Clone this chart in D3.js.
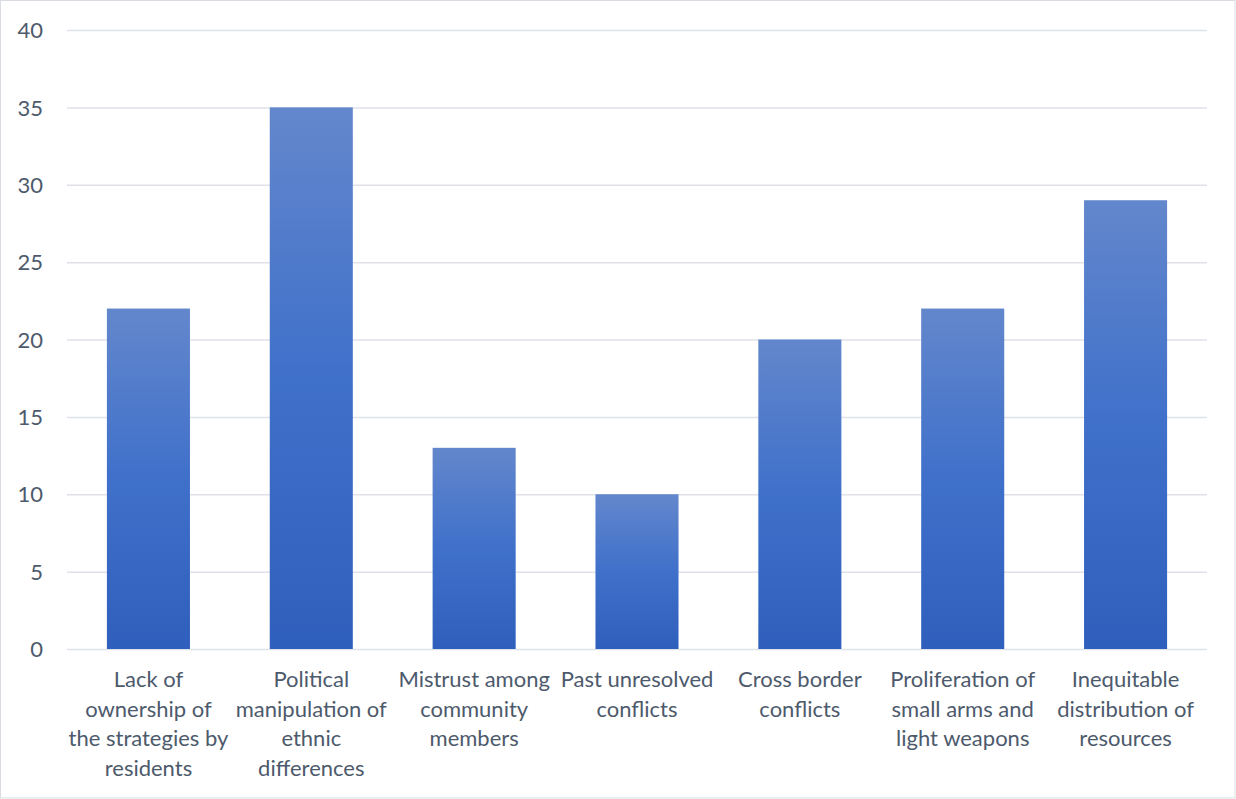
<!DOCTYPE html>
<html>
<head>
<meta charset="utf-8">
<script src="https://cdn.jsdelivr.net/npm/d3@7"></script>
<style>
  html, body { margin: 0; padding: 0; background: #ffffff; }
  svg { display: block; }
  text { font-family: Lato, "Open Sans", sans-serif; fill: #4d5a6c; }
</style>
</head>
<body>
<svg id="chart" width="1236" height="799"></svg>
<script>
// Causes of conflict and number of respondents citing each
const categories = [
  "Lack of ownership of the strategies by residents",
  "Political manipulation of ethnic differences",
  "Mistrust among community members",
  "Past unresolved conflicts",
  "Cross border conflicts",
  "Proliferation of small arms and light weapons",
  "Inequitable distribution of resources"
];
const values = [22, 35, 13, 10, 20, 22, 29];

// Category labels broken into display lines
const categoryLines = [
  ["Lack of", "ownership of", "the strategies by", "residents"],
  ["Political", "manipulation of", "ethnic", "differences"],
  ["Mistrust among", "community", "members"],
  ["Past unresolved", "conflicts"],
  ["Cross border", "conflicts"],
  ["Proliferation of", "small arms and", "light weapons"],
  ["Inequitable", "distribution of", "resources"]
];

const yTicks = [0, 5, 10, 15, 20, 25, 30, 35, 40];

const svg = d3.select("#chart");
const W = 1236, H = 799;
const plot = { left: 67, right: 1207, top: 30, bottom: 649 };
const fontSize = "22px";

// outer chart frame
svg.append("rect")
  .attr("x", 0.5).attr("y", 0.5)
  .attr("width", W - 1.5).attr("height", H - 1.5)
  .attr("fill", "#ffffff")
  .attr("stroke", "#d9dde3")
  .attr("stroke-width", 1);

// vertical gradient applied to each bar
const defs = svg.append("defs");
const grad = defs.append("linearGradient")
  .attr("id", "barGrad")
  .attr("x1", 0).attr("y1", 0).attr("x2", 0).attr("y2", 1);
grad.append("stop").attr("offset", "0%").attr("stop-color", "#6387cc");
grad.append("stop").attr("offset", "50%").attr("stop-color", "#3f70ca");
grad.append("stop").attr("offset", "100%").attr("stop-color", "#2f5fbc");

const x = d3.scaleBand()
  .domain(categories)
  .range([plot.left, plot.right])
  .paddingInner(0.49)
  .paddingOuter(0.245);

const y = d3.scaleLinear()
  .domain([0, 40])
  .range([plot.bottom, plot.top]);

// horizontal gridlines and y tick labels
const yAxis = d3.axisLeft(y)
  .tickValues(yTicks)
  .tickSize(-(plot.right - plot.left))
  .tickPadding(24)
  .tickFormat(d3.format("d"));

const gy = svg.append("g")
  .attr("transform", `translate(${plot.left},0)`)
  .call(yAxis);
gy.select(".domain").remove();
gy.selectAll(".tick line")
  .attr("stroke", "#dfe2e8")
  .attr("stroke-width", 1.5);
gy.selectAll(".tick text")
  .attr("font-size", fontSize)
  .attr("fill", "#4d5a6c")
  .attr("dy", "0.35em");

// bars
svg.append("g")
  .selectAll("rect")
  .data(values)
  .join("rect")
  .attr("x", (d, i) => x(categories[i]))
  .attr("y", d => y(d))
  .attr("width", x.bandwidth())
  .attr("height", d => y(0) - y(d))
  .attr("fill", "url(#barGrad)");

// category labels on the x axis
const xAxis = d3.axisBottom(x).tickSize(0).tickFormat("");
const gx = svg.append("g")
  .attr("transform", `translate(0,${plot.bottom})`)
  .call(xAxis);
gx.select(".domain").remove();

const lineH = 29.5;
gx.selectAll(".tick").each(function (d, i) {
  const t = d3.select(this).append("text")
    .attr("text-anchor", "middle")
    .attr("font-size", fontSize)
    .attr("fill", "#4d5a6c")
    .attr("y", 38);
  categoryLines[i].forEach((line, k) => {
    t.append("tspan")
      .attr("x", 0)
      .attr("dy", k === 0 ? 0 : lineH)
      .text(line);
  });
});
</script>
</body>
</html>
